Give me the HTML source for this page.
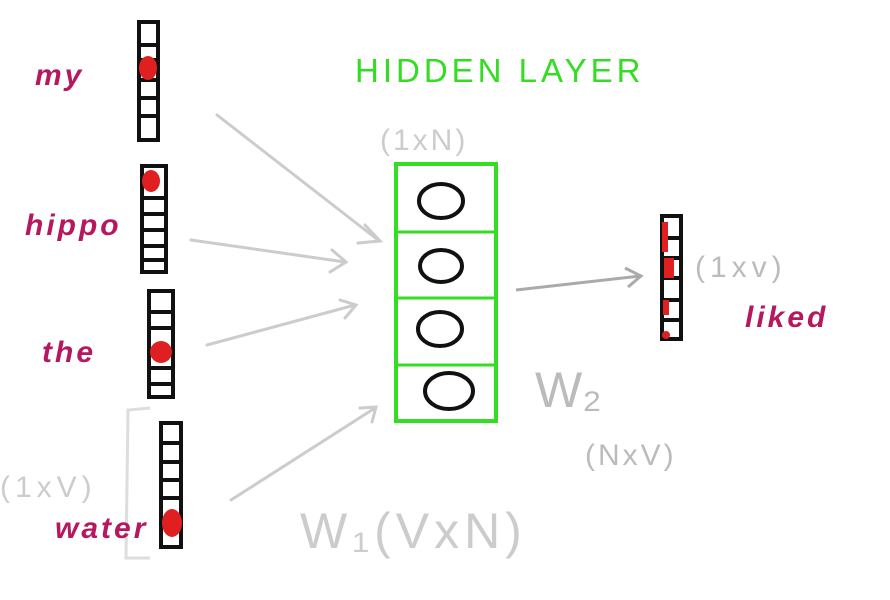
<!DOCTYPE html>
<html><head><meta charset="utf-8"><style>
html,body{margin:0;padding:0;background:#fff;width:890px;height:600px;overflow:hidden}
svg{display:block}
text{font-family:"Liberation Sans",sans-serif}
</style></head><body>
<svg width="890" height="600" viewBox="0 0 890 600">
<rect width="890" height="600" fill="#fff"/>
<g fill="none" stroke="#111" stroke-width="4">
<rect x="139" y="22" width="19" height="118"/>
<path d="M139 45h19M139 60h19M139 80h19M139 98h19M139 116h19"/>
</g>
<ellipse cx="148" cy="68" rx="9" ry="12" fill="#e02020"/>
<g fill="none" stroke="#111" stroke-width="4">
<rect x="142" y="166" width="24" height="106"/>
<path d="M142 198h24M142 214h24M142 230h24M142 246h24M142 260h24"/>
</g>
<ellipse cx="151" cy="181" rx="9" ry="11" fill="#e02020"/>
<g fill="none" stroke="#111" stroke-width="4">
<rect x="149" y="291" width="24" height="106"/>
<path d="M149 312h24M149 328h24M149 368h24M149 384h24"/>
</g>
<ellipse cx="161" cy="352" rx="11" ry="11" fill="#e02020"/>
<g fill="none" stroke="#111" stroke-width="4">
<rect x="161" y="423" width="20" height="124"/>
<path d="M161 443h20M161 462h20M161 480h20M161 498h20"/>
</g>
<ellipse cx="172" cy="523" rx="10" ry="14" fill="#e02020"/>
<path d="M150 408 L128 410 L126 558 L150 558" fill="none" stroke="#ddd" stroke-width="3"/>
<g fill="#b5185e" font-size="30" font-weight="bold" font-style="italic" letter-spacing="3">
<text x="35" y="85">my</text>
<text x="25" y="235">hippo</text>
<text x="42" y="362">the</text>
<text x="55" y="538">water</text>
<text x="745" y="327">liked</text>
</g>
<g stroke="#ccc" stroke-width="3" fill="none" stroke-linecap="round">
<path d="M217 115 L378 240 M365 225 L380 241 L358 243"/>
<path d="M191 240 L345 262 M332 250 L346 262 L330 272"/>
<path d="M207 345 L355 305 M340 300 L356 305 L345 318"/>
<path d="M231 500 L375 408 M360 408 L376 407 L372 422"/>
</g>
<g>
<rect x="396" y="164" width="100" height="257" fill="none" stroke="#33dd22" stroke-width="4"/>
<path d="M396 232h100M396 298h100M396 365h100" stroke="#33dd22" stroke-width="3"/>
<g fill="none" stroke="#111" stroke-width="4">
<ellipse cx="441" cy="201" rx="22" ry="17"/>
<ellipse cx="441" cy="266" rx="21" ry="16"/>
<ellipse cx="440" cy="329" rx="22" ry="17"/>
<ellipse cx="449" cy="391" rx="24" ry="18"/>
</g>
</g>
<text x="355" y="82" fill="#33dd22" font-size="33" letter-spacing="4">HIDDEN LAYER</text>
<text x="380" y="150" fill="#ccc" font-size="30" letter-spacing="3">(1xN)</text>
<path d="M516 290 L640 276 M625 268 L641 276 L628 287" stroke="#aaa" stroke-width="3" fill="none"/>
<g fill="none" stroke="#111" stroke-width="4">
<rect x="662" y="216" width="19" height="123"/>
<path d="M662 238h19M662 258h19M662 278h19M662 300h19M662 320h19"/>
</g>
<g fill="#e02020">
<rect x="662" y="222" width="6" height="30"/><rect x="664" y="258" width="10" height="20"/><rect x="663" y="300" width="6" height="15"/><circle cx="666" cy="335" r="4"/>
</g>
<g fill="#bbb">
<text x="695" y="277" font-size="30" letter-spacing="5">(1xv)</text>
<text x="535" y="407" font-size="50">W₂</text>
<text x="585" y="465" font-size="30" letter-spacing="3">(NxV)</text>
<text x="0" y="497" font-size="30" letter-spacing="5" fill="#ccc">(1xV)</text>
<text x="300" y="548" font-size="50" letter-spacing="5" fill="#ccc">W₁(VxN)</text>
</g>
</svg>
</body></html>
